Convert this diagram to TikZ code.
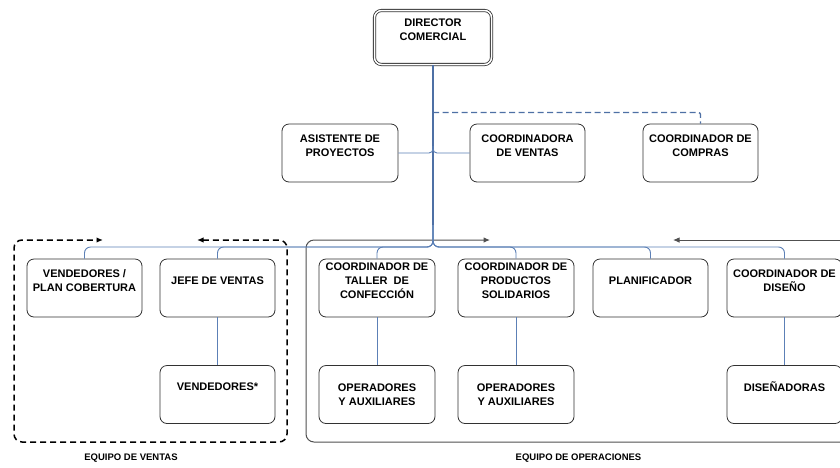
\documentclass[tikz,border=0pt]{standalone}
\usepackage{fontspec}
\setmainfont{Liberation Sans}
\usetikzlibrary{arrows.meta}
\definecolor{connblue}{RGB}{92,128,182}
\definecolor{trunkblue}{RGB}{78,112,165}
\definecolor{boxline}{RGB}{50,50,50}
\definecolor{opsgrey}{RGB}{80,80,80}
\begin{document}
\begin{tikzpicture}[x=1pt,y=-1pt,
  >={Latex[length=6.5pt,width=5.5pt]},
  box/.style={draw=boxline, line width=0.8pt, rounded corners=7pt, minimum width=115pt, minimum height=58pt, inner sep=0pt},
  lbl/.style={font=\bfseries\fontsize{11}{14}\selectfont, align=center, inner sep=0pt},
  txt/.style={label={[lbl,yshift=7.5pt]center:{#1}}},
  txtc/.style={label={[lbl]center:{#1}}},
  conn/.style={draw=connblue, line width=0.9pt},
  trunk/.style={draw=trunkblue, line width=1.2pt},
  team/.style={font=\bfseries\fontsize{9.5}{12}\selectfont, inner sep=0pt}
]
\useasboundingbox (0,0) rectangle (840,467);
\fill[white] (0,0) rectangle (840,467);

% boxes
\node[box, double=white, double distance=1.5pt, minimum width=117pt, minimum height=54pt, txt={DIRECTOR\\COMERCIAL}] (dir) at (433,37.5) {};
\node[box, minimum width=116pt, txt={ASISTENTE DE\\PROYECTOS}] (asis) at (340,153) {};
\node[box, minimum width=115pt, txt={COORDINADORA\\DE VENTAS}] (cven) at (527.5,153) {};
\node[box, minimum width=115pt, txt={COORDINADOR DE\\COMPRAS}] (comp) at (700.5,153) {};

\node[box, txt={VENDEDORES /\\PLAN COBERTURA}] (vend) at (84.5,288) {};
\node[box, txt={JEFE DE VENTAS}] (jefe) at (217.5,288) {};
\node[box, minimum width=116pt, txt={COORDINADOR DE\\TALLER\ \ DE\\CONFECCIÓN}] (taller) at (377,288) {};
\node[box, minimum width=116pt, txt={COORDINADOR DE\\PRODUCTOS\\SOLIDARIOS}] (prod) at (516,288) {};
\node[box, txt={PLANIFICADOR}] (plan) at (650.5,288) {};
\node[box, txt={COORDINADOR DE\\DISEÑO}] (cdis) at (784.5,288) {};

\node[box, txt={VENDEDORES*}] (vend2) at (217.5,394.5) {};
\node[box, minimum width=116pt, txtc={OPERADORES\\Y AUXILIARES}] (op1) at (377,394.5) {};
\node[box, minimum width=116pt, txtc={OPERADORES\\Y AUXILIARES}] (op2) at (516,394.5) {};
\node[box, txt={DISEÑADORAS}] (dis) at (784.5,394.5) {};

% coordinates
\coordinate (bus) at (433,247);
\coordinate (split) at (433,225);
\coordinate (asJ) at (433,146);
\coordinate (dashJ) at (433,112.5);
\coordinate (vtA) at (197,240);
\coordinate (vtB) at (103,240);
\coordinate (vc1) at (287,240);
\coordinate (vc2) at (287,442);
\coordinate (vc3) at (14,442);
\coordinate (vc4) at (14,240);
\coordinate (opA) at (490,240);
\coordinate (opB) at (673,240);
\coordinate (opR) at (840,240);
\coordinate (oc1) at (840,442);
\coordinate (oc2) at (306,442);
\coordinate (oc3) at (306,240);

% team frames
\draw[line width=1.5pt, dash pattern=on 6pt off 4pt, rounded corners=8pt, <->]
  (vtA) -- (vc1) -- (vc2) -- (vc3) -- (vc4) -- (vtB);
\draw[draw=opsgrey, line width=1pt, rounded corners=8pt, ->]
  (oc1) -- (oc2) -- (oc3) -- (opA);
\draw[draw=opsgrey, line width=1pt, <-] (opB) -- (opR);

% connectors
\draw[trunk] (dir.south) -- (split);
\draw[conn, rounded corners=4pt] (asis.east) -| (asJ);
\draw[conn, rounded corners=4pt] (cven.west) -| (asJ);
\draw[draw=trunkblue, line width=1.3pt, dash pattern=on 6pt off 3.5pt, rounded corners=2pt] (dashJ) -| (comp.north);
\foreach \t in {vend,jefe,taller,prod,plan,cdis}
  \draw[conn, rounded corners=6pt] (split) -- (bus) -| (\t.north);
\draw[conn] (jefe.south) -- (vend2.north);
\draw[conn] (taller.south) -- (op1.north);
\draw[conn] (prod.south) -- (op2.north);
\draw[conn] (cdis.south) -- (dis.north);

% team labels
\node[team] (eqv) at (131,458) {EQUIPO DE VENTAS};
\node[team] (eqo) at (578.5,458) {EQUIPO DE OPERACIONES};
\end{tikzpicture}
\end{document}
